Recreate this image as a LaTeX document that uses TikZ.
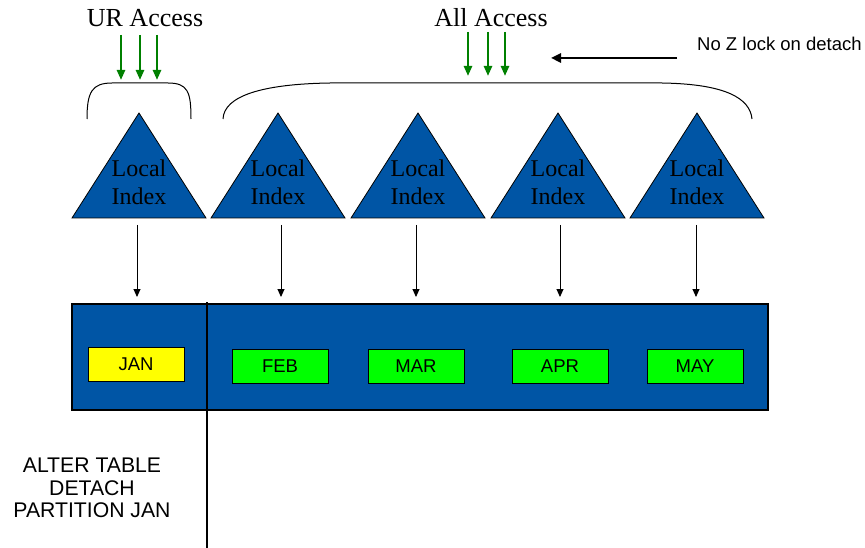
\documentclass[tikz,border=0pt]{standalone}
\usepackage{fontspec}
\setmainfont{Liberation Serif}
\newfontfamily\arial{Liberation Sans}
\usetikzlibrary{arrows.meta}
\definecolor{idxblue}{HTML}{0055A5}
\definecolor{accgreen}{HTML}{008000}
\definecolor{partgreen}{HTML}{00FF00}
\definecolor{partyellow}{HTML}{FFFF00}
\tikzset{
  tri/.style={draw=black, line width=0.8pt, fill=idxblue},
  idxtext/.style={align=center, inner sep=0pt, font=\fontsize{24}{28}\selectfont},
  partbox/.style={draw=black, line width=1pt, minimum width=96pt, minimum height=34pt, inner sep=0pt, font=\arial\fontsize{18.5}{20}\selectfont},
  garrow/.style={draw=accgreen, line width=2.4pt, -{Triangle[length=10pt,width=8pt]}},
  darrow/.style={draw=black, line width=0.9pt, -{Triangle[length=8pt,width=7pt]}},
  bracestyle/.style={draw=black, line width=1pt},
  titletext/.style={inner sep=0pt, font=\fontsize{26}{30}\selectfont}
}
\begin{document}
\begin{tikzpicture}[x=1pt,y=-1pt]
\useasboundingbox (0,0) rectangle (865,548);

% titles
\node[titletext] (ur) at (145,18) {UR Access};
\node[titletext] (all) at (491,18) {All Access};
\node[inner sep=0pt, anchor=west, font=\arial\fontsize{18.5}{20}\selectfont] (noz) at (697,44) {No Z lock on detach};

% green access arrows
\foreach \x/\n in {121/1,140/2,157/3} {
  \coordinate (ua\n) at (\x,35); \coordinate (ub\n) at (\x,80);
  \draw[garrow] (ua\n) -- (ub\n);
}
\foreach \x/\n in {468/1,488/2,505/3} {
  \coordinate (aa\n) at (\x,32); \coordinate (ab\n) at (\x,76);
  \draw[garrow] (aa\n) -- (ab\n);
}

% no-z-lock arrow
\coordinate (nzs) at (677,58);
\coordinate (nze) at (551,58);
\draw[black, line width=2.4pt, -{Triangle[length=10pt,width=9pt]}] (nzs) -- (nze);

% braces
\draw[bracestyle] (87,119) .. controls (87,92) and (92,83) .. (112,83) -- (168,83) .. controls (188,83) and (191,92) .. (191,119);
\draw[bracestyle] (223,119) .. controls (224,96) and (262,84) .. (330,83) -- (662,83) .. controls (725,84) and (750,98) .. (752,119);

% triangles (local indexes)
\foreach \cx/\n in {139/1,278/2,418/3,558/4,697/5} {
  \draw[tri] (\cx-67,218) -- (\cx,113) -- (\cx+67,218) -- cycle;
  \node[idxtext] (t\n) at (\cx,182) {Local\\Index};
}

% table
\node[draw=black, line width=1.2pt, fill=idxblue, minimum width=696pt, minimum height=106pt, inner sep=0pt] (tbl) at (420,357) {};

% arrows from index to table
\foreach \x/\n in {137/1,281/2,416/3,560/4,696/5} {
  \coordinate (s\n) at (\x,225); \coordinate (e\n) at (\x,297);
  \draw[darrow] (s\n) -- (e\n);
}

% partitions
\node[partbox, fill=partyellow] (jan) at (136,364) {JAN};
\node[partbox, fill=partgreen] (feb) at (280,366) {FEB};
\node[partbox, fill=partgreen] (mar) at (416,366) {MAR};
\node[partbox, fill=partgreen] (apr) at (560,366) {APR};
\node[partbox, fill=partgreen] (may) at (695,366) {MAY};

% detach line
\coordinate (dl1) at (207,302);
\coordinate (dl2) at (207,548);
\draw[black, line width=2.6pt] (dl1) -- (dl2);

% statement
\node[align=center, inner sep=0pt, font=\arial\fontsize{21.2}{22.5}\selectfont] (stmt) at (92,488) {ALTER TABLE\\DETACH\\PARTITION JAN};
\end{tikzpicture}
\end{document}
